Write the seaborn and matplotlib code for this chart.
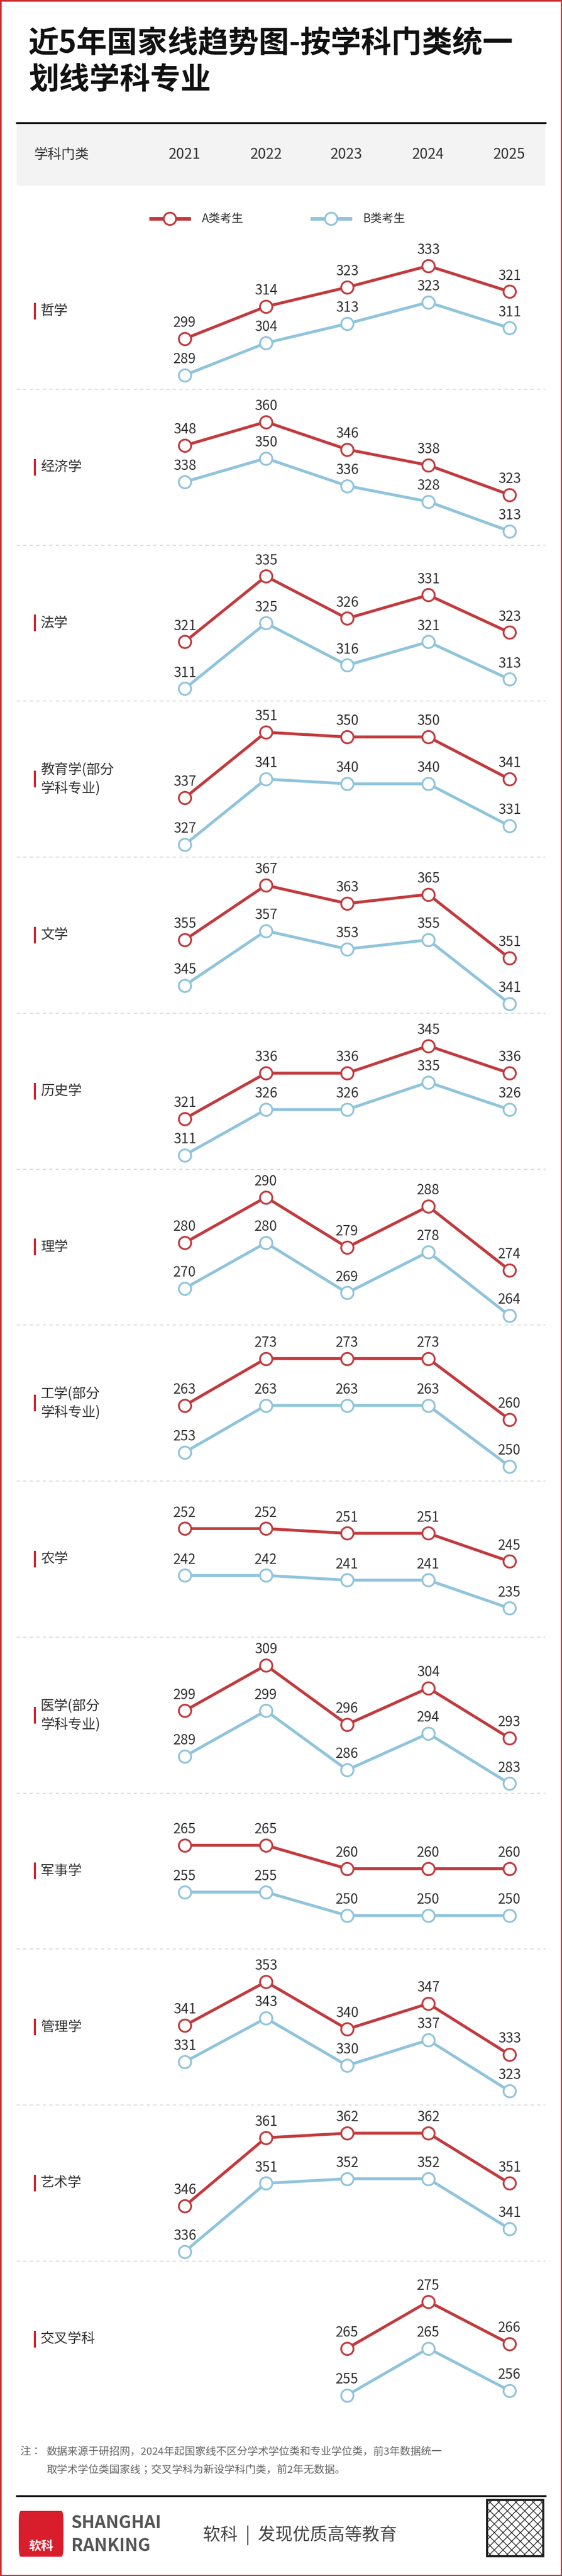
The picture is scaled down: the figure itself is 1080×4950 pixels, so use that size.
import numpy as np
import pandas as pd
import matplotlib
matplotlib.use("Agg")
import matplotlib.pyplot as plt
import seaborn as sns
from matplotlib.lines import Line2D
from matplotlib.patches import Rectangle, FancyBboxPatch

plt.rcParams["font.family"] = ["Noto Sans CJK JP", "DejaVu Sans"]

# ---- data ----
years = ["2021", "2022", "2023", "2024", "2025"]
categories = ["哲学", "经济学", "法学", "教育学(部分\n学科专业)", "文学", "历史学", "理学",
              "工学(部分\n学科专业)", "农学", "医学(部分\n学科专业)", "军事学", "管理学", "艺术学", "交叉学科"]
score_a = [
    [299, 314, 323, 333, 321],
    [348, 360, 346, 338, 323],
    [321, 335, 326, 331, 323],
    [337, 351, 350, 350, 341],
    [355, 367, 363, 365, 351],
    [321, 336, 336, 345, 336],
    [280, 290, 279, 288, 274],
    [263, 273, 273, 273, 260],
    [252, 252, 251, 251, 245],
    [299, 309, 296, 304, 293],
    [265, 265, 260, 260, 260],
    [341, 353, 340, 347, 333],
    [346, 361, 362, 362, 351],
    [None, None, 265, 275, 266],
]
score_b = [
    [289, 304, 313, 323, 311],
    [338, 350, 336, 328, 313],
    [311, 325, 316, 321, 313],
    [327, 341, 340, 340, 331],
    [345, 357, 353, 355, 341],
    [311, 326, 326, 335, 326],
    [270, 280, 269, 278, 264],
    [253, 263, 263, 263, 250],
    [242, 242, 241, 241, 235],
    [289, 299, 286, 294, 283],
    [255, 255, 250, 250, 250],
    [331, 343, 330, 337, 323],
    [336, 351, 352, 352, 341],
    [None, None, 255, 265, 256],
]
series_names = ["A类考生", "B类考生"]

RED = "#c23a3d"
BLUE = "#90c4dc"
TXT = "#333333"
W, H = 1080, 4950

fig = plt.figure(figsize=(W / 100, H / 100), dpi=100)
fig.patch.set_facecolor("white")


def fx(px):
    return px / W


def fy(py):
    return 1 - py / H


def hline(x0, x1, y, **kw):
    fig.add_artist(Line2D([fx(x0), fx(x1)], [fy(y), fy(y)], **kw))


# outer border
fig.add_artist(Rectangle((0.001, 0.0003), 0.998, 0.9994, transform=fig.transFigure,
                         fill=False, edgecolor="#d0282e", linewidth=2.5))

# title
fig.text(fx(55), fy(83), "近5年国家线趋势图-按学科门类统一", fontsize=42, fontweight="bold",
         color="#111111", va="center", ha="left")
fig.text(fx(55), fy(154), "划线学科专业", fontsize=42, fontweight="bold",
         color="#111111", va="center", ha="left")

# header band
fig.add_artist(Rectangle((fx(32), fy(357)), fx(1016), (357 - 236) / H,
                         transform=fig.transFigure, facecolor="#f3f3f3", edgecolor="none"))
hline(32, 1048, 236, color="black", linewidth=2.5)
fig.text(fx(65), fy(297), "学科门类", fontsize=19, color=TXT, va="center", ha="left")
year_px = [355, 512, 666, 823, 979]
for yr, xp in zip(years, year_px):
    fig.text(fx(xp), fy(297), yr, fontsize=20, color=TXT, va="center", ha="center")

# legend
for name, col, x0 in [(series_names[0], RED, 290), (series_names[1], BLUE, 600)]:
    fig.add_artist(Line2D([fx(x0), fx(x0 + 73)], [fy(420), fy(420)], color=col, linewidth=5))
    fig.add_artist(Line2D([fx(x0 + 36)], [fy(420)], color=col, marker="o", markersize=17,
                          markerfacecolor="white", markeredgewidth=2.5, linestyle="none"))
    fig.text(fx(x0 + 98), fy(420), name, fontsize=16, color=TXT, va="center", ha="left")

# panels
step = 299.75
ax_h = 300
for i, cat in enumerate(categories):
    top = 448 + step * i
    center = top + step / 2
    fig.add_artist(Rectangle((fx(65), fy(center + 16)), fx(4), 32 / H,
                             transform=fig.transFigure, facecolor="#d0282e", edgecolor="none"))
    fig.text(fx(78), fy(center), cat, fontsize=19, color=TXT, va="center", ha="left",
             linespacing=1.4)
    if i < len(categories) - 1:
        hline(32, 1048, top + step, color="#dddddd", linewidth=1.5, linestyle=(0, (3, 3)))

    a = pd.Series([np.nan if v is None else v for v in score_a[i]], dtype=float)
    b = pd.Series([np.nan if v is None else v for v in score_b[i]], dtype=float)
    rA = max(a.max() - a.min(), 5)
    k = min(9.0, 140 / rA)          # px per point
    gap = max(70.0, 10 * k)         # px between A value and B value (A-10)
    span = rA * k + gap
    # pixel (axis-relative from bottom) for A max
    span_center = center + 18
    a_top_px = span_center - span / 2          # figure px of A max
    ax_top = center - ax_h / 2
    # axis ylim so that a.max() sits at a_top_px
    upper = a.max() + (a_top_px - ax_top) / k
    lower = upper - ax_h / k
    d = gap / k - 10

    ax = fig.add_axes([fx(277), fy(ax_top + ax_h), fx(780), ax_h / H])
    ax2 = ax.twinx()
    for axis, s, col, lim in [(ax, a, RED, (lower, upper)), (ax2, b, BLUE, (lower + d, upper + d))]:
        df = pd.DataFrame({"x": range(5), "score": s}).dropna()
        sns.lineplot(data=df, x="x", y="score", color=col, marker="o", markersize=17,
                     markerfacecolor="white", markeredgecolor=col, markeredgewidth=2.5,
                     linewidth=4, ax=axis)
        axis.set_ylim(*lim)
        axis.set_xlim(-0.5, 4.5)
        for _, row in df.iterrows():
            axis.annotate(f"{int(row['score'])}", (row["x"], row["score"]), xytext=(0, 12),
                          textcoords="offset points", ha="center", va="bottom", fontsize=19,
                          color=TXT)
        axis.axis("off")

# footnote
fig.text(fx(38), fy(4711), "注：", fontsize=15, color="#666666", va="center", ha="left")
fig.text(fx(89), fy(4711), "数据来源于研招网，2024年起国家线不区分学术学位类和专业学位类，前3年数据统一",
         fontsize=14.5, color="#666666", va="center", ha="left")
fig.text(fx(89), fy(4746), "取学术学位类国家线；交叉学科为新设学科门类，前2年无数据。",
         fontsize=14.5, color="#666666", va="center", ha="left")
hline(32, 1048, 4796, color="black", linewidth=2.5)

# footer logo
fig.add_artist(FancyBboxPatch((fx(36), fy(4913)), fx(86), 88 / H, transform=fig.transFigure,
                              boxstyle="round,pad=0,rounding_size=0.004",
                              facecolor="#d81e2c", edgecolor="none"))
fig.text(fx(79), fy(4893), "软科", fontsize=17, fontweight="bold", color="white",
         va="center", ha="center")
fig.text(fx(137), fy(4848), "SHANGHAI", fontsize=24, fontweight="bold", color="#555555",
         va="center", ha="left")
fig.text(fx(137), fy(4893), "RANKING", fontsize=24, fontweight="bold", color="#555555",
         va="center", ha="left")
fig.text(fx(390), fy(4872), "软科  |  发现优质高等教育", fontsize=24, color="#444444",
         va="center", ha="left")
fig.add_artist(Rectangle((fx(936), fy(4912)), fx(108), 108 / H, transform=fig.transFigure,
                         facecolor="white", edgecolor="#222222", linewidth=3, hatch="xx"))

fig.savefig("out.png", dpi=100, facecolor="white")
